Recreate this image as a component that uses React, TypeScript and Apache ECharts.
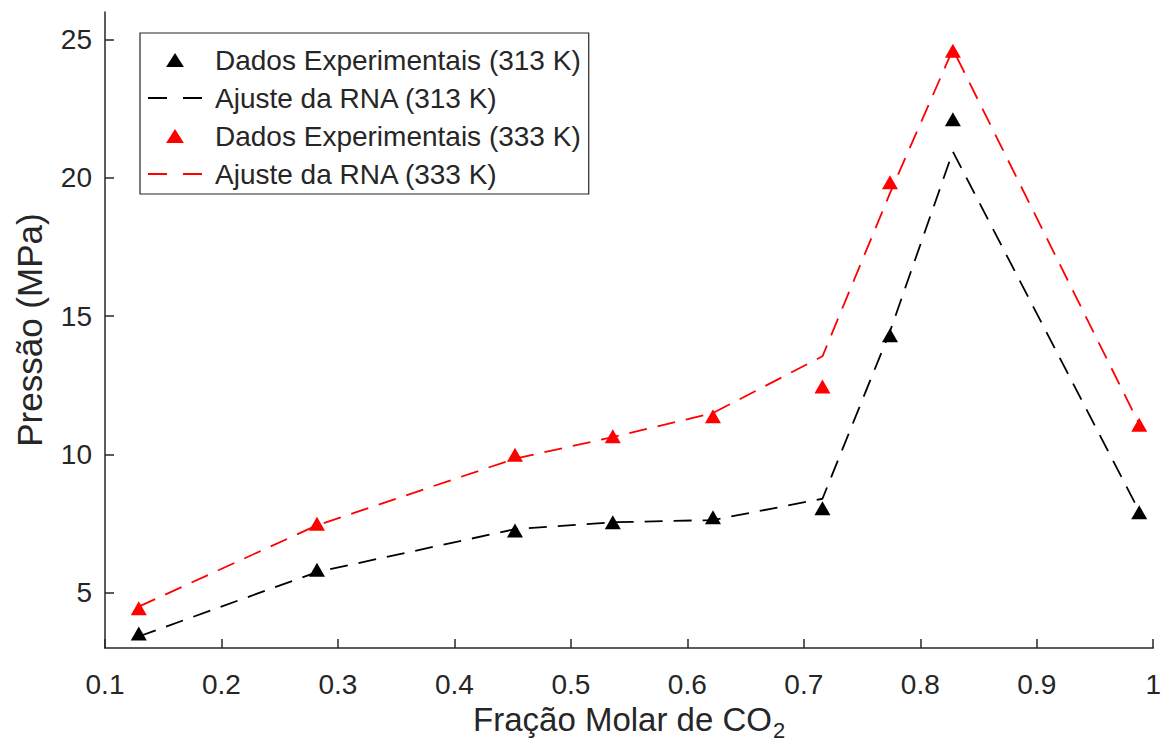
import React, { useEffect, useRef } from "react";
import * as echarts from "echarts";

// CO2 mole fraction at each measured point
const fracaoCO2 = [0.129, 0.282, 0.452, 0.536, 0.622, 0.716, 0.774, 0.828, 0.988];

// Pressure (MPa) — experimental data and ANN fit
const exp313 = [3.53, 5.83, 7.25, 7.55, 7.73, 8.06, 14.31, 22.12, 7.91];
const fit313 = [3.42, 5.75, 7.3, 7.55, 7.63, 8.4, 14.45, 20.95, 7.95];
const exp333 = [4.44, 7.5, 9.99, 10.66, 11.38, 12.46, 19.84, 24.6, 11.08];
const fit333 = [4.5, 7.44, 9.85, 10.63, 11.5, 13.55, 19.45, 24.65, 11.1];

const yTicks = [5, 10, 15, 20, 25];

const seriesNames = [
  "Dados Experimentais (313 K)",
  "Ajuste da RNA (313 K)",
  "Dados Experimentais (333 K)",
  "Ajuste da RNA (333 K)",
];

const AXIS = "#262626";
const FONT = "'Liberation Sans', Arial, Helvetica, sans-serif";
// legend glyphs: a filled triangle and a two-dash line segment
const TRIANGLE_ICON = "path://M0 11 L7 0 L14 11 Z";
const DASH_ICON = "path://M0 0 H19 V2 H0 Z M35 0 H54 V2 H35 Z";

const pairs = (ys: number[]) => fracaoCO2.map((x, i) => [x, ys[i]]);

export default function App() {
  const ref = useRef<HTMLDivElement>(null);

  useEffect(() => {
    if (!ref.current) return;
    const chart = echarts.init(ref.current, undefined, { renderer: "svg" });

    const dash = [18, 11];
    const scatter = (name: string, data: number[], color: string) => ({
      name,
      type: "scatter",
      data: pairs(data),
      symbol: "triangle",
      symbolSize: [16, 14],
      itemStyle: { color, opacity: 1 },
    });
    const fit = (name: string, data: number[], color: string) => ({
      name,
      type: "line",
      data: pairs(data),
      symbol: "none",
      lineStyle: { color, width: 1.8, type: dash },
      itemStyle: { color },
    });

    chart.setOption({
      animation: false,
      backgroundColor: "#ffffff",
      textStyle: { fontFamily: FONT },
      grid: { left: 105, top: 12, right: 7, bottom: 97, containLabel: false },
      legend: {
        orient: "vertical",
        left: 140,
        top: 33,
        data: [
          { name: seriesNames[0], icon: TRIANGLE_ICON },
          { name: seriesNames[1], icon: DASH_ICON },
          { name: seriesNames[2], icon: TRIANGLE_ICON },
          { name: seriesNames[3], icon: DASH_ICON },
        ],
        symbolKeepAspect: true,
        backgroundColor: "#ffffff",
        borderColor: AXIS,
        borderWidth: 1.2,
        borderRadius: 0,
        padding: [13, 8, 6, 8],
        itemWidth: 54,
        itemHeight: 14,
        itemGap: 10,
        textStyle: {
          fontFamily: FONT,
          fontSize: 28,
          color: AXIS,
          lineHeight: 28,
          padding: [0, 0, 0, 8],
        },
      },
      xAxis: {
        type: "value",
        min: 0.1,
        max: 1,
        interval: 0.1,
        name: "{n|Fração Molar de CO}{s|2}",
        nameLocation: "middle",
        nameGap: 49,
        nameTextStyle: {
          rich: {
            n: { fontFamily: FONT, fontSize: 33, color: AXIS },
            s: { fontFamily: FONT, fontSize: 22, color: AXIS, padding: [21, 0, 0, 1] },
          },
        },
        axisLine: { show: true, lineStyle: { color: AXIS, width: 1.5 } },
        axisTick: { show: true, inside: true, length: 9, lineStyle: { color: AXIS, width: 1.5 } },
        axisLabel: {
          fontFamily: FONT,
          fontSize: 28,
          color: AXIS,
          margin: 22,
          formatter: (v: number) => String(Math.round(v * 10) / 10),
        },
        splitLine: { show: false },
      },
      yAxis: {
        type: "value",
        min: 3,
        max: 26,
        name: "Pressão (MPa)",
        nameLocation: "middle",
        nameGap: 58,
        nameTextStyle: { fontFamily: FONT, fontSize: 35, color: AXIS },
        axisLine: { show: true, lineStyle: { color: AXIS, width: 1.5 } },
        axisTick: {
          show: true,
          inside: true,
          length: 9,
          customValues: yTicks,
          lineStyle: { color: AXIS, width: 1.5 },
        },
        axisLabel: {
          fontFamily: FONT,
          fontSize: 28,
          color: AXIS,
          margin: 13,
          customValues: yTicks,
        },
        splitLine: { show: false },
      },
      series: [
        scatter(seriesNames[0], exp313, "#000000"),
        fit(seriesNames[1], fit313, "#000000"),
        scatter(seriesNames[2], exp333, "#ff0000"),
        fit(seriesNames[3], fit333, "#ff0000"),
      ],
    });

    return () => chart.dispose();
  }, []);

  return (
    <div
      ref={ref}
      style={{ position: "fixed", left: 0, top: 0, width: 1164, height: 746, background: "#fff" }}
    />
  );
}
